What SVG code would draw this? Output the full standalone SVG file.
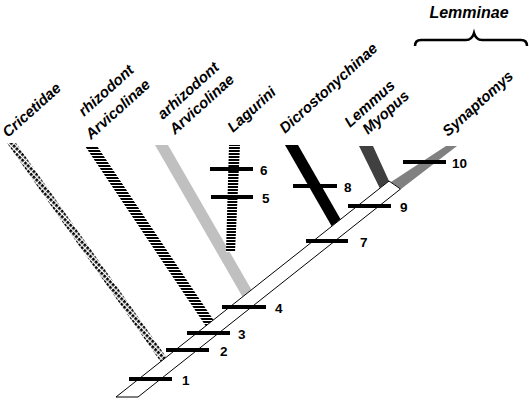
<svg xmlns="http://www.w3.org/2000/svg" width="529" height="401" viewBox="0 0 529 401">
<defs>
<pattern id="dots" patternUnits="userSpaceOnUse" width="4" height="4" patternTransform="rotate(45)">
<rect width="4" height="4" fill="#fff"/>
<rect x="0" y="0" width="2.7" height="2.7" fill="#000"/>
</pattern>
<pattern id="stripes" patternUnits="userSpaceOnUse" width="6" height="3">
<rect width="6" height="3" fill="#fff"/>
<rect x="0" y="0" width="6" height="2" fill="#000"/>
</pattern>
<style>
.lab{font-family:"Liberation Sans",Arial,sans-serif;font-weight:bold;font-style:italic;font-size:15px;fill:#000}
.num{font-family:"Liberation Sans",Arial,sans-serif;font-weight:bold;font-size:13.5px;fill:#000}
.bar{stroke:#000;stroke-width:4;fill:none}
.trunk{fill:#fff;stroke:#000;stroke-width:1}
</style>
</defs>
<rect width="529" height="401" fill="#fff"/>

<g id="Cricetidae">
<polygon points="7,143 16,143 166.4,357.2 160.6,361.8" fill="url(#dots)"/>
<text class="lab" transform="translate(8,138) rotate(-42)">Cricetidae</text>
</g>
<g id="rhizodont">
<polygon points="85,146 97,146 213.5,319.9 205.7,326.1" fill="url(#stripes)"/>
<text class="lab" transform="translate(84,117) rotate(-42)">rhizodont</text>
<text class="lab" transform="translate(91,140) rotate(-42)">Arvicolinae</text>
</g>
<g id="arhizodont">
<polygon points="155,145 168,145 251.5,289.8 242.6,296.9" fill="#c0c0c0"/>
<text class="lab" transform="translate(163,120) rotate(-42)">arhizodont</text>
<text class="lab" transform="translate(175,135) rotate(-42)">Arvicolinae</text>
</g>
<g id="Lagurini">
<polygon points="229,145 240,145 235,252 226,252" fill="url(#stripes)"/>
<text class="lab" transform="translate(233,133) rotate(-42)">Lagurini</text>
</g>
<g id="Dicrostonychinae">
<polygon points="285,145 298,145 340.6,219.3 331.7,226.3" fill="#000"/>
<text class="lab" transform="translate(285,134) rotate(-42)">Dicrostonychinae</text>
</g>
<g id="LemmusMyopus">
<polygon points="359,146 373,146 389,181 379.8,188.3" fill="#404040"/>
<text class="lab" transform="translate(350,128) rotate(-42)">Lemmus</text>
<text class="lab" transform="translate(368,135) rotate(-42)">Myopus</text>
</g>
<g id="Synaptomys">
<polygon points="391,182 446,146 457,146 401,189" fill="#808080"/>
<text class="lab" transform="translate(448,137) rotate(-42)">Synaptomys</text>
</g>
<g id="Lemminae">
<text class="lab" x="469" y="18" text-anchor="middle" style="font-size:16px">Lemminae</text>
<path d="M415,46 Q415,40 421,40 L466,40 Q472,40 474,33 Q476,40 482,40 L521,40 Q527,40 527,46" fill="none" stroke="#000" stroke-width="2.5"/>
</g>

<g id="trunk">
<polygon class="trunk" points="116,397 138,397 400.5,189 389,181"/>
</g>

<g id="connectors">
<line class="bar" x1="129" y1="379" x2="172" y2="379"/>
<line class="bar" x1="166" y1="350" x2="209" y2="350"/>
<line class="bar" x1="187" y1="333" x2="230" y2="333"/>
<line class="bar" x1="222" y1="307" x2="266" y2="307"/>
<line class="bar" x1="211" y1="197" x2="253" y2="197"/>
<line class="bar" x1="210" y1="169" x2="253" y2="169"/>
<line class="bar" x1="306" y1="241" x2="348" y2="241"/>
<line class="bar" x1="293" y1="186" x2="337" y2="186"/>
<line class="bar" x1="348" y1="206" x2="391" y2="206"/>
<line class="bar" x1="403" y1="162" x2="446" y2="162"/>
</g>
<g id="numbers">
<text class="num" x="182" y="384.5">1</text>
<text class="num" x="220" y="355.5">2</text>
<text class="num" x="238" y="338.5">3</text>
<text class="num" x="275" y="312.5">4</text>
<text class="num" x="262" y="202.5">5</text>
<text class="num" x="260" y="174.5">6</text>
<text class="num" x="360" y="246.5">7</text>
<text class="num" x="344" y="191.5">8</text>
<text class="num" x="400" y="211.5">9</text>
<text class="num" x="452" y="167.5">10</text>
</g>
</svg>
